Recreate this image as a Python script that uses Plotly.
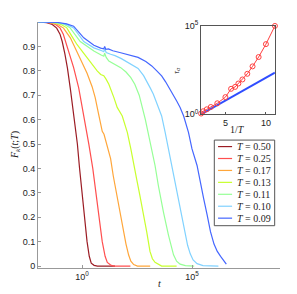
import plotly.graph_objects as go

# ---------------- data ----------------
temps = ["0.50", "0.25", "0.17", "0.13", "0.11", "0.10", "0.09"]
colors = ["#9b1c24", "#ff4f4f", "#ffa63a", "#c8ff2e", "#96ff96", "#80d2ff", "#4466ff"]

logt_050 = [-2, -1.6, -1.35, -1.15, -1.0, -0.9, -0.78, -0.66, -0.52, -0.37, -0.21, -0.11, 0.0, 0.11, 0.23, 0.33, 0.42, 0.55, 0.7, 1.5]
F_050 = [1.0, 0.997, 0.99, 0.975, 0.95, 0.92, 0.87, 0.81, 0.72, 0.61, 0.5, 0.4, 0.3, 0.2, 0.1, 0.04, 0.012, 0.003, 0.0, 0.0]

logt_025 = [-2, -1.5, -1.2, -1.0, -0.85, -0.69, -0.5, -0.38, -0.15, 0.0, 0.11, 0.31, 0.49, 0.64, 0.77, 0.92, 1.05, 1.15, 1.3, 1.45, 2.2]
F_025 = [1.0, 0.997, 0.99, 0.976, 0.95, 0.905, 0.855, 0.813, 0.73, 0.66, 0.6, 0.5, 0.4, 0.3, 0.2, 0.1, 0.04, 0.015, 0.004, 0.0, 0.0]

logt_017 = [-2, -1.4, -1.1, -0.84, -0.53, -0.3, -0.08, 0.23, 0.46, 0.6, 0.75, 0.85, 0.92, 1.0, 1.15, 1.3, 1.42, 1.53, 1.64, 1.76, 1.88, 2.0, 2.12, 2.22, 2.35, 2.52, 3.1]
F_017 = [1.0, 0.997, 0.99, 0.975, 0.935, 0.89, 0.854, 0.79, 0.735, 0.69, 0.625, 0.58, 0.552, 0.54, 0.493, 0.44, 0.37, 0.317, 0.27, 0.2, 0.14, 0.09, 0.045, 0.02, 0.006, 0.0, 0.0]

logt_013 = [-2, -1.3, -0.95, -0.69, -0.45, -0.23, 0.23, 0.5, 0.69, 0.85, 0.99, 1.1, 1.22, 1.45, 1.6, 1.83, 2.06, 2.22, 2.37, 2.48, 2.63, 2.78, 2.94, 3.09, 3.2, 3.32, 3.5, 3.62, 4.3]
F_013 = [1.0, 0.997, 0.99, 0.976, 0.94, 0.908, 0.854, 0.82, 0.8, 0.785, 0.78, 0.765, 0.745, 0.69, 0.65, 0.615, 0.548, 0.48, 0.4, 0.358, 0.29, 0.222, 0.141, 0.06, 0.03, 0.015, 0.004, 0.0, 0.0]

logt_011 = [-2, -1.2, -0.8, -0.54, -0.08, 0.54, 0.87, 0.99, 1.03, 1.1, 1.22, 1.33, 1.5, 1.76, 2.0, 2.22, 2.4, 2.6, 2.88, 3.12, 3.32, 3.47, 3.55, 3.7, 3.93, 4.05, 4.16, 4.3, 4.46, 4.7, 5.1]
F_011 = [1.0, 0.997, 0.99, 0.976, 0.92, 0.881, 0.865, 0.86, 0.872, 0.855, 0.84, 0.835, 0.825, 0.813, 0.795, 0.772, 0.745, 0.7, 0.6, 0.5, 0.412, 0.33, 0.29, 0.222, 0.127, 0.08, 0.046, 0.02, 0.008, 0.002, 0.0]

logt_010 = [-2, -1.1, -0.7, -0.38, 0.08, 0.54, 0.9, 0.99, 1.03, 1.1, 1.3, 1.5, 1.79, 2.2, 2.55, 2.8, 2.94, 3.1, 3.24, 3.47, 3.62, 3.78, 3.93, 4.08, 4.2, 4.39, 4.54, 4.69, 4.8, 4.92, 5.05, 5.23, 5.5, 6.2]
F_010 = [1.0, 0.997, 0.99, 0.976, 0.92, 0.894, 0.882, 0.878, 0.89, 0.875, 0.868, 0.862, 0.85, 0.83, 0.81, 0.78, 0.759, 0.73, 0.705, 0.65, 0.615, 0.548, 0.48, 0.412, 0.36, 0.276, 0.209, 0.127, 0.085, 0.05, 0.025, 0.01, 0.002, 0.0]

logt_009 = [-2, -1.1, -0.7, -0.38, 0.08, 0.54, 0.85, 0.99, 1.03, 1.08, 1.2, 1.4, 1.76, 2.2, 2.55, 2.9, 3.17, 3.4, 3.62, 3.8, 4.0, 4.15, 4.31, 4.46, 4.62, 4.84, 5.0, 5.23, 5.38, 5.53, 5.69, 5.84, 6.0, 6.15, 6.3, 6.45, 6.56]
F_009 = [1.0, 0.998, 0.992, 0.983, 0.935, 0.905, 0.893, 0.89, 0.9, 0.888, 0.89, 0.882, 0.874, 0.865, 0.855, 0.838, 0.82, 0.8, 0.779, 0.755, 0.725, 0.7, 0.675, 0.65, 0.615, 0.548, 0.48, 0.412, 0.34, 0.276, 0.209, 0.141, 0.09, 0.06, 0.04, 0.02, 0.008]

series_logt = [logt_050, logt_025, logt_017, logt_013, logt_011, logt_010, logt_009]
series_F = [F_050, F_025, F_017, F_013, F_011, F_010, F_009]

# inset: relaxation time vs 1/T
inv_T = [2.0, 2.25, 2.7, 3.2, 4.0, 5.0, 5.7, 6.2, 6.6, 7.1, 7.7, 8.35, 9.1, 10.0, 11.11]
log_tau = [0.04, 0.17, 0.28, 0.41, 0.62, 0.97, 1.44, 1.55, 1.74, 1.97, 2.29, 2.71, 3.24, 3.97, 5.0]
arr_invT = [2.0, 11.11]
arr_logtau = [0.0, 2.36]

main_xticks = [1, 1e5]
main_xticktext = ["10<sup>0</sup>", "10<sup>5</sup>"]
main_yticks = [0, 0.1, 0.2, 0.3, 0.4, 0.5, 0.6, 0.7, 0.8, 0.9]
main_yticktext = ["0", "0.1", "0.2", "0.3", "0.4", "0.5", "0.6", "0.7", "0.8", "0.9"]
inset_xticks = [5, 10]
inset_yticks = [1, 1e5]
inset_yticktext = ["10<sup>0</sup>", "10<sup>5</sup>"]

# ---------------- figure ----------------
fig = go.Figure()
for lt, F, c in zip(series_logt, series_F, colors):
    fig.add_trace(go.Scatter(x=[10 ** v for v in lt], y=F, mode="lines",
                             line=dict(color=c, width=1.2), showlegend=False,
                             xaxis="x", yaxis="y"))

fig.add_trace(go.Scatter(x=arr_invT, y=[10 ** v for v in arr_logtau], mode="lines",
                         line=dict(color="#2f4dff", width=2), showlegend=False,
                         xaxis="x2", yaxis="y2", cliponaxis=False))
fig.add_trace(go.Scatter(x=inv_T, y=[10 ** v for v in log_tau], mode="lines+markers",
                         line=dict(color="#ff4040", width=1),
                         marker=dict(symbol="circle-open", size=5, color="#ff4040", line=dict(width=1)),
                         showlegend=False, xaxis="x2", yaxis="y2", cliponaxis=False))

tickfont = dict(family="Liberation Sans, Arial", size=9, color="#222")
serif = "Liberation Serif, DejaVu Serif, serif"

fig.update_layout(
    width=297, height=294,
    margin=dict(l=38, r=17, t=22, b=24),
    plot_bgcolor="white", paper_bgcolor="white",
    showlegend=False,
    xaxis=dict(type="log", range=[-2, 9], showgrid=False, zeroline=False,
               showline=True, linecolor="#999", linewidth=1,
               ticks="inside", ticklen=3, tickcolor="#999",
               tickvals=main_xticks, ticktext=main_xticktext, tickfont=tickfont),
    yaxis=dict(range=[-0.008, 1.0], showgrid=False, zeroline=False,
               showline=True, linecolor="#999", linewidth=1,
               ticks="inside", ticklen=3, tickcolor="#999",
               tickvals=main_yticks, ticktext=main_yticktext, tickfont=tickfont),
    xaxis2=dict(domain=[0.674, 0.979], anchor="y2", range=[2, 11.11],
                showgrid=False, zeroline=False, showline=True, mirror=True,
                linecolor="#555", linewidth=1, ticks="inside", ticklen=2, tickcolor="#555",
                tickvals=inset_xticks, tickfont=tickfont),
    yaxis2=dict(domain=[0.625, 0.984], anchor="x2", type="log", range=[0, 5],
                showgrid=False, zeroline=False, showline=True, mirror=True,
                linecolor="#555", linewidth=1, ticks="inside", ticklen=2, tickcolor="#555",
                tickvals=inset_yticks, ticktext=inset_yticktext, tickfont=tickfont),
)

annotations = [
    dict(text="<i>t</i>", x=0.5, y=-0.062, xref="paper", yref="paper",
         showarrow=False, font=dict(family=serif, size=10, color="#222"),
         xanchor="center", yanchor="middle"),
    dict(text="<i>F</i><sub><i>k</i></sub>(<i>t</i>;<i>T</i>)", x=-0.095, y=0.5,
         xref="paper", yref="paper", textangle=-90, showarrow=False,
         font=dict(family=serif, size=10, color="#222"), xanchor="center", yanchor="middle"),
    dict(text="1/<i>T</i>", x=0.826, y=0.562, xref="paper", yref="paper",
         showarrow=False, font=dict(family=serif, size=10, color="#222"),
         xanchor="center", yanchor="middle"),
    dict(text="<i>τ</i><sub><i>α</i></sub>", x=0.573, y=0.805, xref="paper", yref="paper",
         textangle=-90, showarrow=False, font=dict(family=serif, size=8, color="#222"),
         xanchor="center", yanchor="middle"),
]

shapes = [dict(type="rect", xref="paper", yref="paper", x0=0.7285, x1=0.978,
               y0=0.172, y1=0.52, line=dict(color="#555", width=1), fillcolor="white",
               layer="above")]
leg_top = 0.4936
leg_step = 0.0485
for i, (T, c) in enumerate(zip(temps, colors)):
    yy = leg_top - i * leg_step
    shapes.append(dict(type="line", xref="paper", yref="paper", x0=0.744, x1=0.802,
                       y0=yy, y1=yy, line=dict(color=c, width=1.2), layer="above"))
    annotations.append(dict(text="<i>T</i> = " + T, x=0.812, y=yy, xref="paper", yref="paper",
                            showarrow=False, xanchor="left", yanchor="middle",
                            font=dict(family=serif, size=10, color="#222")))

fig.update_layout(shapes=shapes, annotations=annotations)
fig.write_html("out.html", config={"displayModeBar": False},
               post_script="document.body.style.margin='0px';document.body.style.overflow='hidden';")
